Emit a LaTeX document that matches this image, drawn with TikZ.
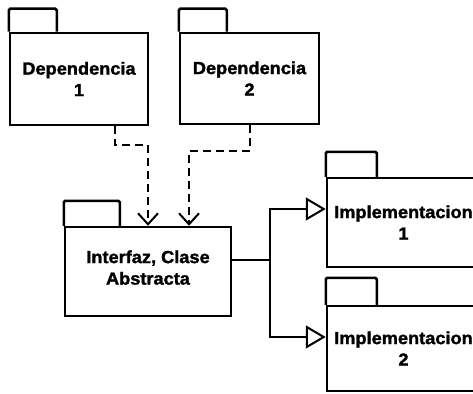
\documentclass[tikz,border=0pt]{standalone}
\usepackage{fontspec}
\setmainfont{Liberation Sans}[BoldFeatures={FakeBold=1.6,FakeStretch=1.04}]
\usetikzlibrary{arrows.meta}
\begin{document}
\begin{tikzpicture}[x=1pt,y=-1pt,
  pkg/.style={draw, line width=2.5pt, inner sep=0pt, align=center,
    font=\fontsize{17.5}{21.5}\selectfont\bfseries},
  tab/.style={draw, line width=2.5pt, rounded corners=1.5pt},
  dep/.style={line width=2.5pt, dash pattern=on 8pt off 5pt,
    -{Straight Barb[length=11pt,width=20pt,line width=2pt]}},
  real/.style={line width=2.5pt,
    -{Triangle[open,length=20pt,width=23pt,line width=2pt,fill=white]}},
  wire/.style={line width=2.5pt}]
\useasboundingbox (0,0) rectangle (473,393);

% package bodies
\node[pkg, minimum width=138pt, minimum height=92pt] (d1) at (79,79) {Dependencia\\1};
\node[pkg, minimum width=139pt, minimum height=91pt] (d2) at (249.5,78.5) {Dependencia\\2};
\node[pkg, minimum width=166pt, minimum height=89pt] (ifc) at (148,271.5) {Interfaz, Clase\\Abstracta\\[-13.5pt]\mbox{}};
\node[pkg, minimum width=153pt, minimum height=89pt] (i1) at (403.5,222.5) {Implementacion\\1};
\node[pkg, minimum width=153pt, minimum height=85pt] (i2) at (403.5,348.5) {Implementacion\\2};

% package tabs
\draw[tab] (d1.north west) -- ++(0,-23) -- ++(48,0) -- ++(0,23);
\draw[tab] (d2.north west) -- ++(0,-23) -- ++(48,0) -- ++(0,23);
\draw[tab] (ifc.north west) -- ++(0,-25) -- ++(56,0) -- ++(0,25);
\draw[tab] (i1.north west) -- ++(0,-25) -- ++(51,0) -- ++(0,25);
\draw[tab] (i2.north west) -- ++(0,-27) -- ++(51,0) -- ++(0,27);

% dependencies
\coordinate (a1) at (115,145);
\coordinate (a2) at (250,151);
\coordinate (b2) at (189,151);
\draw[dep] (d1.south -| a1) -- (a1) -| (ifc.north);
\draw[dep] (d2.south -| a2) -- (a2) -- (b2) -- (ifc.north -| b2);

% realizations
\coordinate (j) at (270,260);
\coordinate (r1) at (300,209);
\coordinate (r2) at (300,337);
\draw[wire] (ifc.east |- j) -- (j);
\draw[real] (j) |- (i1.west |- r1);
\draw[real] (j) |- (i2.west |- r2);
\end{tikzpicture}
\end{document}
